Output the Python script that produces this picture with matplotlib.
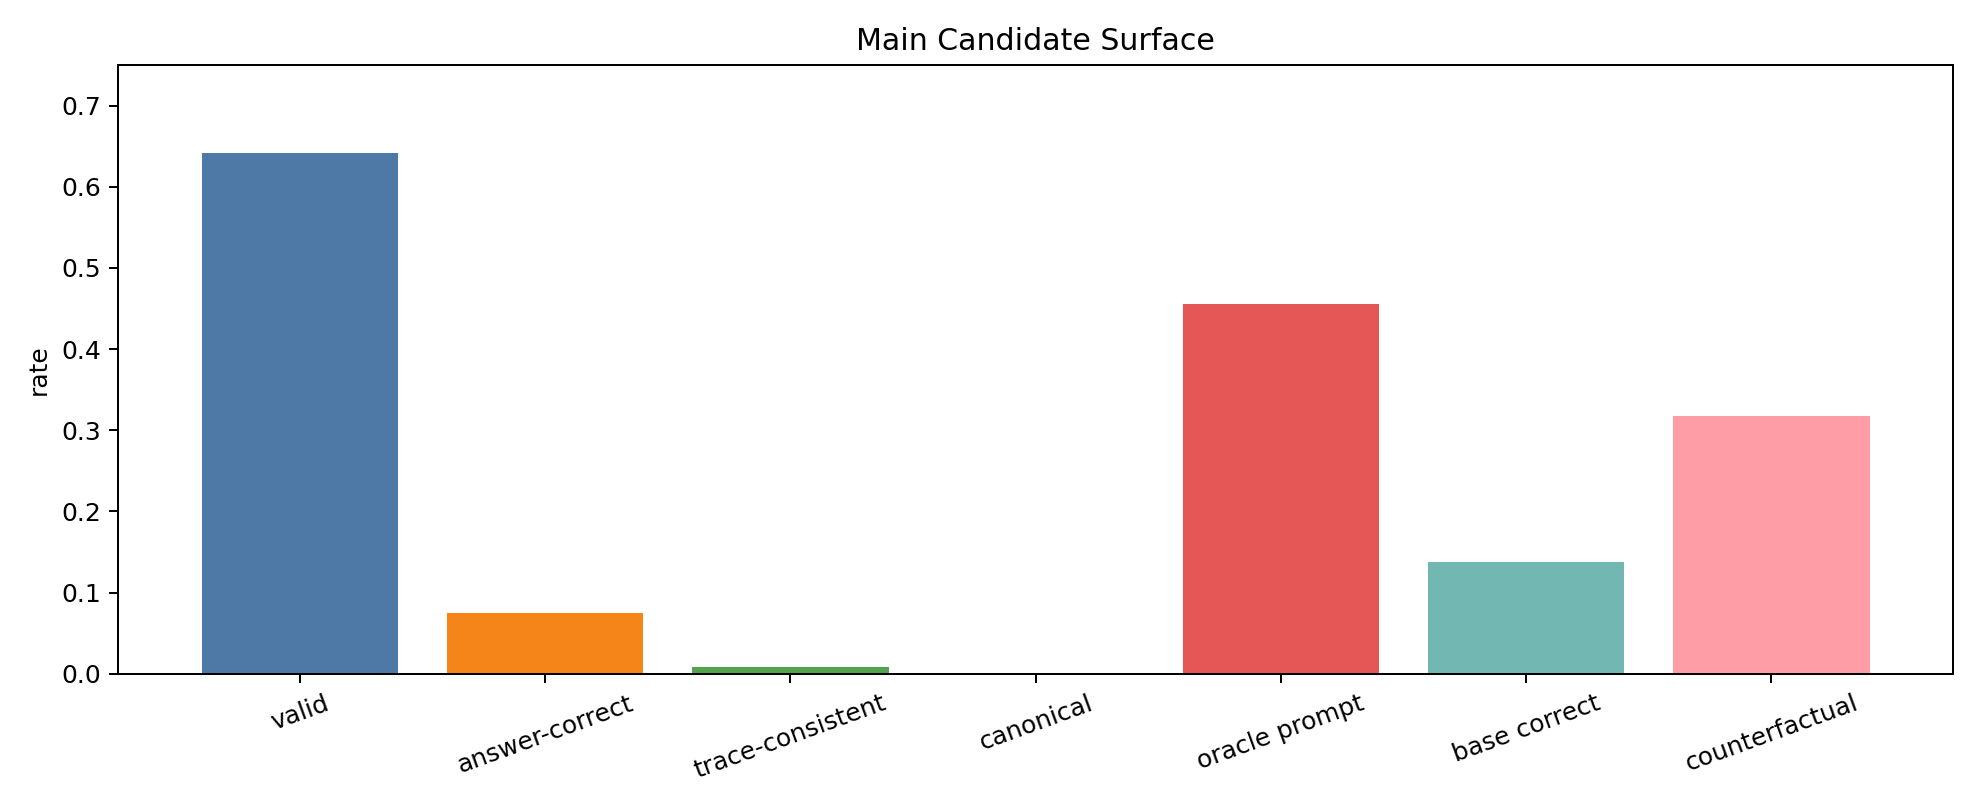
import matplotlib
matplotlib.use("Agg")
import matplotlib.pyplot as plt

categories = ["valid", "answer-correct", "trace-consistent", "canonical",
              "oracle prompt", "base correct", "counterfactual"]
rates = [0.642, 0.075, 0.008, 0.0, 0.455, 0.138, 0.318]
colors = ["#4e79a7", "#f58518", "#54a24b", "#b279a2", "#e45756", "#72b7b2", "#ff9da6"]

fig, ax = plt.subplots(figsize=(11, 4.5), dpi=180)
ax.bar(categories, rates, color=colors)
ax.set_ylim(0, 0.75)
ax.set_ylabel("rate")
ax.set_title("Main Candidate Surface")
plt.setp(ax.get_xticklabels(), rotation=20)
fig.tight_layout()
fig.savefig("out.png")
